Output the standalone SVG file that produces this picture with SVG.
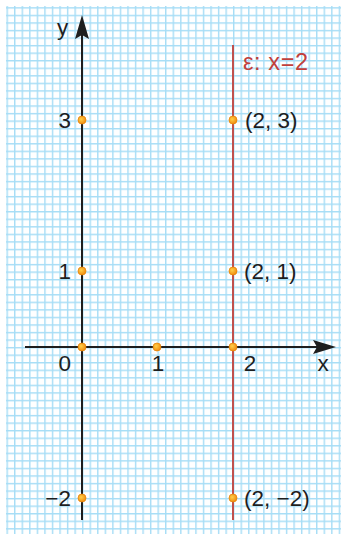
<svg xmlns="http://www.w3.org/2000/svg" width="341" height="534" viewBox="0 0 341 534">
<defs>
<pattern id="grid" patternUnits="userSpaceOnUse" x="6.5" y="7.2" width="7.55" height="7.55">
<rect width="7.55" height="7.55" fill="#ffffff"/>
<path d="M0.7 0V7.55M0 0.7H7.55" stroke="#a6ddf6" stroke-width="1.4" fill="none"/>
</pattern>
<radialGradient id="dot" cx="0.4" cy="0.4" r="0.6">
<stop offset="0" stop-color="#ffd04a"/>
<stop offset="1" stop-color="#f08c10"/>
</radialGradient>
</defs>
<style>
.axis{stroke:#1e1e1e;stroke-width:2;fill:none}
.head{fill:#1e1e1e}
.line{stroke:#c0504d;stroke-width:2;fill:none}
.pt{fill:url(#dot);stroke:#e8880c;stroke-width:0.8}
text{font-family:"Liberation Sans",Arial,sans-serif;font-size:22.5px;fill:#1e1e1e}
.red{fill:#c0403c;font-size:23.5px;letter-spacing:0.6px}
</style>
<rect width="341" height="534" fill="#ffffff"/>
<rect x="6" y="6" width="335" height="528" fill="url(#grid)"/>
<g id="connectors">
<path class="axis" d="M82 520V34"/>
<path class="head" d="M82 15L89 39L82 35L75 39Z"/>
<path class="axis" d="M25 347H318"/>
<path class="head" d="M336 347L313 354L317 347L313 340Z"/>
<path class="line" d="M233 45V520"/>
</g>
<g id="labels">
<text x="57" y="35">y</text>
<text x="323" y="371" text-anchor="middle">x</text>
<text x="71" y="128" text-anchor="end">3</text>
<text x="71" y="279" text-anchor="end">1</text>
<text x="71" y="371" text-anchor="end">0</text>
<text x="71" y="506" text-anchor="end">−2</text>
<text x="158" y="371" text-anchor="middle">1</text>
<text x="250" y="371" text-anchor="middle">2</text>
<text class="red" x="243" y="70">ε: x=2</text>
</g>
<g id="p-0-3"><circle class="pt" cx="82" cy="120" r="4"/></g>
<g id="p-0-1"><circle class="pt" cx="82" cy="271" r="4"/></g>
<g id="p-0-0"><circle class="pt" cx="82" cy="347" r="4"/></g>
<g id="p-0-m2"><circle class="pt" cx="82" cy="498" r="4"/></g>
<g id="p-1-0"><circle class="pt" cx="157" cy="347" r="4"/></g>
<g id="p-2-0"><circle class="pt" cx="233" cy="347" r="4"/></g>
<g id="p-2-3"><circle class="pt" cx="233" cy="120" r="4"/><text x="245" y="128">(2, 3)</text></g>
<g id="p-2-1"><circle class="pt" cx="233" cy="271" r="4"/><text x="244" y="279">(2, 1)</text></g>
<g id="p-2-m2"><circle class="pt" cx="233" cy="498" r="4"/><text x="244" y="506">(2, −2)</text></g>
</svg>
